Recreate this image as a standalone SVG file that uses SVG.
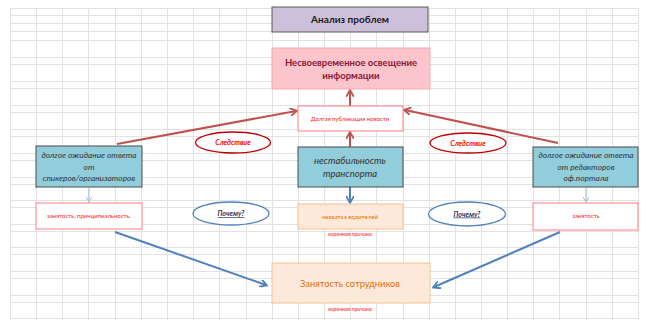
<svg xmlns="http://www.w3.org/2000/svg" width="664" height="320" viewBox="0 0 664 320">
<style>
  .grid { stroke:#e2e2e2; stroke-width:1; fill:none; }
  .t { font-family:Lato, "Liberation Sans", sans-serif; text-anchor:middle; }
  .teal { fill:#92cddc; stroke:#4a4a4a; stroke-width:1; }
  .teal-t { font-style:italic; fill:#333; }
  .wbox { fill:#fff; stroke:#ff7c80; stroke-width:1; }
  .small-red { fill:#ff1a1a; font-size:6px; }
  .root { fill:#ff2020; font-size:5.5px; font-style:italic; }
  .conn-red { stroke:#c0504d; stroke-width:2; fill:none; marker-end:url(#ar); }
  .conn-blue { stroke:#4f81bd; stroke-width:2; fill:none; marker-end:url(#ab); }
  .conn-thin { stroke:#a9bcd9; stroke-width:1; fill:none; marker-end:url(#ag); }
  .ell-red { fill:#fff; stroke:#c00000; stroke-width:1.3; }
  .ell-blue { fill:#fff; stroke:#4f81bd; stroke-width:1.3; }
</style>
<defs>
  <marker id="ar" markerWidth="8" markerHeight="8" refX="6" refY="4" orient="auto" markerUnits="userSpaceOnUse">
    <path d="M0,0 L7,4 L0,8" fill="none" stroke="#c0504d" stroke-width="1.8"/>
  </marker>
  <marker id="ab" markerWidth="8" markerHeight="8" refX="6" refY="4" orient="auto" markerUnits="userSpaceOnUse">
    <path d="M0,0 L7,4 L0,8" fill="none" stroke="#4f81bd" stroke-width="1.8"/>
  </marker>
  <marker id="ag" markerWidth="6" markerHeight="6" refX="5" refY="3" orient="auto" markerUnits="userSpaceOnUse">
    <path d="M0,0 L5,3 L0,6" fill="none" stroke="#a9bcd9" stroke-width="1"/>
  </marker>
</defs>
<rect width="664" height="320" fill="#fff"/>
<g id="grid" class="grid">
  <path d="M10.5,8 V320 M36.5,8 V320 M62.5,8 V320 M88.5,8 V320 M115.5,8 V320 M141.5,8 V320 M167.5,8 V320 M193.5,8 V320 M219.5,8 V320 M246.5,8 V320 M272.5,8 V320 M298.5,8 V320 M324.5,8 V320 M350.5,8 V320 M376.5,8 V320 M403.5,8 V320 M429.5,8 V320 M455.5,8 V320 M481.5,8 V320 M507.5,8 V320 M533.5,8 V320 M559.5,8 V320 M586.5,8 V320 M612.5,8 V320 M638.5,8 V320"/>
  <path d="M10,8.5 H638 M10,15.5 H638 M10,23.5 H638 M10,31.5 H638 M10,40.5 H638 M10,57.5 H638 M10,64.5 H638 M10,81.5 H638 M10,88.5 H638 M10,105.5 H638 M10,112.5 H638 M10,129.5 H638 M10,136.5 H638 M10,153.5 H638 M10,160.5 H638 M10,177.5 H638 M10,184.5 H638 M10,200.5 H638 M10,207.5 H638 M10,224.5 H638 M10,231.5 H638 M10,247.5 H638 M10,254.5 H638 M10,271.5 H638 M10,278.5 H638 M10,295.5 H638 M10,302.5 H638 M10,318.5 H638"/>
</g>
<g id="connectors">
  <path class="conn-red" d="M350,147 V133"/>
  <path class="conn-red" d="M350,106 V91"/>
  <path class="conn-red" d="M117,144 L296,111"/>
  <path class="conn-red" d="M558,143 L405,110"/>
  <path class="conn-blue" d="M350,187 V202"/>
  <path class="conn-blue" d="M115,232 L266,285"/>
  <path class="conn-blue" d="M560,232 L434,287"/>
  <path class="conn-thin" d="M89,188 V202"/>
  <path class="conn-thin" d="M586,188 V202"/>
</g>
<g id="title">
  <rect x="272" y="7" width="156" height="25" fill="#ccc0da" stroke="#595959" stroke-width="1"/>
  <text class="t" x="350" y="23" font-size="10" font-weight="bold" fill="#1a1a1a">Анализ проблем</text>
</g>
<g id="problem">
  <rect x="272" y="48" width="158" height="41" fill="#fcc5cb" stroke="#f4a9b0" stroke-width="1"/>
  <text class="t" x="351" y="66" font-size="9.5" font-weight="bold" fill="#8b1538">Несвоевременное освещение</text>
  <text class="t" x="351" y="79" font-size="9.5" font-weight="bold" fill="#8b1538">информации</text>
</g>
<g id="publication">
  <rect class="wbox" x="298" y="106" width="105" height="25"/>
  <text class="t small-red" x="350" y="121">Долгая публикация новости</text>
</g>
<g id="transport">
  <rect class="teal" x="298" y="147" width="105" height="40"/>
  <text class="t teal-t" x="350" y="164" font-size="9.5">нестабильность</text>
  <text class="t teal-t" x="350" y="177" font-size="9.5">транспорта</text>
</g>
<g id="drivers">
  <rect x="298" y="204" width="105" height="25" fill="#fde9d9" stroke="#fac090" stroke-width="1"/>
  <text class="t" x="350" y="219" font-size="6" fill="#e36c09">нехватка водителей</text>
  <text class="t root" x="350" y="236">коренная причина</text>
</g>
<g id="left-wait">
  <rect class="teal" x="36" y="146" width="106" height="41"/>
  <text class="t teal-t" x="89" y="158" font-size="8.3">долгое ожидание ответа</text>
  <text class="t teal-t" x="89" y="170" font-size="8.3">от</text>
  <text class="t teal-t" x="89" y="181" font-size="8.3">спикеров/организаторов</text>
</g>
<g id="left-busy">
  <rect class="wbox" x="36" y="203" width="106" height="26"/>
  <text class="t small-red" x="89" y="218">занятость, принципиальность.</text>
</g>
<g id="right-wait">
  <rect class="teal" x="533" y="147" width="105" height="40"/>
  <text class="t teal-t" x="586" y="158" font-size="8.3">долгое ожидание ответа</text>
  <text class="t teal-t" x="586" y="170" font-size="8.3">от редакторов</text>
  <text class="t teal-t" x="586" y="181" font-size="8.3">оф.портала</text>
</g>
<g id="right-busy">
  <rect class="wbox" x="533" y="203" width="105" height="27"/>
  <text class="t small-red" x="586" y="218">занятость</text>
</g>
<g id="staff">
  <rect x="272" y="263" width="158" height="40" fill="#fde9d9" stroke="#fac090" stroke-width="1"/>
  <text class="t" x="350" y="287" font-size="9.3" fill="#e36c09">Занятость сотрудников</text>
  <text class="t root" x="350" y="311">коренная причина</text>
</g>
<g id="consequence-left">
  <ellipse class="ell-red" cx="233" cy="142.5" rx="37.5" ry="10.5"/>
  <text class="t" x="233" y="145" font-size="7.2" font-weight="bold" font-style="italic" fill="#ff0000">Следствие</text>
</g>
<g id="consequence-right">
  <ellipse class="ell-red" cx="468" cy="143" rx="38" ry="10"/>
  <text class="t" x="468" y="145.5" font-size="7.2" font-weight="bold" font-style="italic" fill="#ff0000">Следствие</text>
</g>
<g id="why-left">
  <ellipse class="ell-blue" cx="231" cy="213.5" rx="38" ry="11.5"/>
  <text class="t" x="231" y="216" font-size="7" font-weight="bold" font-style="italic" fill="#1f3864" text-decoration="underline">Почему?</text>
</g>
<g id="why-right">
  <ellipse class="ell-blue" cx="467" cy="214" rx="38.5" ry="12"/>
  <text class="t" x="467" y="216.5" font-size="7" font-weight="bold" font-style="italic" fill="#1f3864" text-decoration="underline">Почему?</text>
</g>
</svg>
